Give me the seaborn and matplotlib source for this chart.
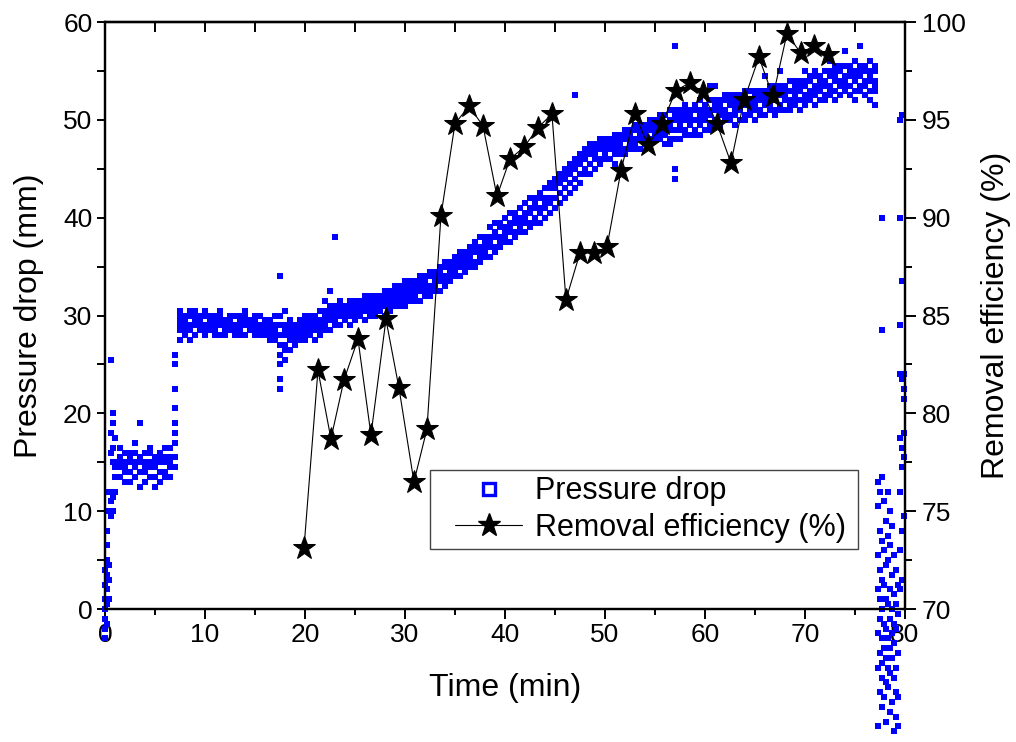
import numpy as np
import pandas as pd
import matplotlib
matplotlib.use("Agg")
import matplotlib.pyplot as plt
from matplotlib.lines import Line2D
from matplotlib.patches import Rectangle
from matplotlib.ticker import MultipleLocator
import seaborn as sns

# ---------------- data ----------------
# Removal efficiency (%) vs time (min)
eff_time = [19.9, 21.3, 22.6, 23.9, 25.3, 26.6, 28.1, 29.4, 30.9, 32.2,
            33.6, 35.0, 36.4, 37.8, 39.2, 40.5, 41.9, 43.3, 44.7, 46.1,
            47.5, 48.9, 50.2, 51.6, 53.0, 54.3, 55.7, 57.1, 58.5, 59.8,
            61.2, 62.6, 63.9, 65.4, 66.8, 68.2, 69.6, 70.9, 72.3]
eff_value = [73.1, 82.2, 78.7, 81.7, 83.8, 78.9, 84.8, 81.3, 76.5, 79.2,
             90.1, 94.8, 95.7, 94.7, 91.1, 93.0, 93.6, 94.6, 95.3, 85.8,
             88.2, 88.2, 88.5, 92.4, 95.3, 93.7, 94.8, 96.5, 96.9, 96.4,
             94.8, 92.8, 96.0, 98.2, 96.2, 99.4, 98.4, 98.8, 98.3]

# Pressure drop (mm) readings, grouped by sample time (min)
pd_startup = [
    (0.0, [-3, -2, -1, 0, 1, 2.5, 4]),
    (0.2, [-1.5, 0.5, 2, 3.5, 5, 6.5, 8]),
    (0.4, [1, 3, 4.5, 10, 12]),
    (0.6, [9.5, 11, 12, 16, 18, 25.5]),
    (0.8, [10, 11.5, 12, 15, 16.5, 19, 20]),
    (1.0, [12, 13.5, 14.5, 15, 17.5]),
]
pd_plateau15 = [
    (1.5, [13.5, 14.5, 15, 15.5, 16.5]), (2.0, [13, 14, 14.5, 15, 16]),
    (2.5, [13, 14, 15, 15.5, 16]), (3.0, [13.5, 14.5, 15, 16, 17]),
    (3.5, [12.5, 14, 15, 15.5, 19]), (4.0, [13, 14, 14.5, 15, 16]),
    (4.5, [13.5, 14.5, 15, 16, 16.5]), (5.0, [12.5, 13.5, 14.5, 15, 15.5]),
    (5.5, [13, 14, 15, 15.5, 16]), (6.0, [13.5, 14, 15, 15.5, 16.5]),
    (6.5, [13.5, 14.5, 15, 15.5, 16.5]),
    (7.0, [14.5, 15.5, 17, 18, 19, 20.5, 22.5, 25, 26]),
]
pd_plateau29 = [
    (7.5, [27.5, 28.5, 29, 29.5, 30, 30.5]), (8.0, [28, 28.5, 29, 29.5, 30]),
    (8.5, [27.5, 28.5, 29, 30, 30.5]), (9.0, [28, 29, 29.5, 30, 30.5]),
    (9.5, [28.5, 29, 29.5, 30]), (10.0, [28, 28.5, 29, 30, 30.5]),
    (10.5, [28.5, 29, 29.5, 30]), (11.0, [28, 28.5, 29, 29.5, 30]),
    (11.5, [28, 29, 29.5, 30, 30.5]), (12.0, [28, 28.5, 29, 29.5]),
    (12.5, [28.5, 29, 29.5, 30]), (13.0, [28, 28.5, 29, 30]),
    (13.5, [28, 28.5, 29, 29.5, 30]), (14.0, [28, 29, 29.5, 30, 30.5]),
    (14.5, [28.5, 29, 29.5]), (15.0, [28, 28.5, 29, 29.5, 30]),
    (15.5, [28, 28.5, 29, 30]), (16.0, [28, 28.5, 29, 29.5]),
    (16.5, [27.5, 28, 28.5, 29, 29.5]), (17.0, [27.5, 28, 28.5, 29, 30]),
    (17.5, [22.5, 23.5, 25, 26, 27, 28, 29, 30, 34]),
    (18.0, [25.5, 26.5, 27, 28, 28.5, 29, 30.5]),
    (18.5, [26.5, 27.5, 28, 28.5, 29, 29.5]), (19.0, [27, 27.5, 28, 28.5, 29]),
    (19.5, [27.5, 28, 28.5, 29, 29.5]), (20.0, [27.5, 28, 28.5, 29, 29.5, 30]),
    (20.5, [28, 28.5, 29, 29.5, 30]), (21.0, [27.5, 28.5, 29, 29.5, 30]),
    (21.5, [28, 28.5, 29, 29.5, 30.5]),
]
pd_rise = [
    (22.0, [28.5, 29, 29.5, 30, 30.5, 31.5]), (22.5, [28.5, 29.5, 30, 30.5, 31, 32.5]),
    (23.0, [29, 29.5, 30, 30.5, 31, 38]), (23.5, [29, 30, 30.5, 31, 31.5]),
    (24.0, [29.5, 30, 30.5, 31]), (24.5, [29, 30, 30.5, 31, 31.5]),
    (25.0, [29.5, 30, 30.5, 31, 31.5]), (25.5, [30, 30.5, 31, 31.5]),
    (26.0, [29.5, 30.5, 31, 31.5, 32]), (26.5, [30, 30.5, 31, 31.5, 32]),
    (27.0, [30, 30.5, 31, 31.5, 32]), (27.5, [30.5, 31, 31.5, 32]),
    (28.0, [30, 31, 31.5, 32, 32.5]), (28.5, [30.5, 31, 31.5, 32, 32.5]),
    (29.0, [31, 31.5, 32, 32.5, 33]), (29.5, [31, 31.5, 32, 32.5, 33]),
    (30.0, [31, 31.5, 32, 32.5, 33, 33.5]), (30.5, [31.5, 32, 32.5, 33, 33.5]),
    (31.0, [31.5, 32, 32.5, 33, 33.5]), (31.5, [31.5, 32.5, 33, 33.5, 34]),
    (32.0, [32, 32.5, 33, 33.5, 34]), (32.5, [32, 32.5, 33, 34, 34.5]),
    (33.0, [32.5, 33, 33.5, 34, 34.5]), (33.5, [32.5, 33.5, 34, 34.5, 35]),
    (34.0, [33, 33.5, 34, 35, 35.5]), (34.5, [33.5, 34, 34.5, 35, 35.5]),
    (35.0, [34, 34.5, 35, 35.5, 36]), (35.5, [34, 35, 35.5, 36, 36.5]),
    (36.0, [34.5, 35, 35.5, 36, 36.5]), (36.5, [35, 35.5, 36, 36.5, 37]),
    (37.0, [35, 35.5, 36.5, 37, 37.5]), (37.5, [35.5, 36, 36.5, 37, 38]),
    (38.0, [36, 36.5, 37, 37.5, 38]), (38.5, [36, 37, 37.5, 38, 39]),
    (39.0, [36.5, 37, 38, 38.5, 39.5]), (39.5, [37, 37.5, 38, 39, 39.5]),
    (40.0, [37.5, 38, 38.5, 39, 40]), (40.5, [37.5, 38.5, 39, 39.5, 40.5]),
    (41.0, [38, 38.5, 39.5, 40, 40.5]), (41.5, [38.5, 39, 39.5, 40, 41]),
    (42.0, [38.5, 39.5, 40, 40.5, 41.5]), (42.5, [39, 39.5, 40.5, 41, 42]),
    (43.0, [39.5, 40, 41, 41.5, 42]), (43.5, [39.5, 40.5, 41, 42, 42.5]),
    (44.0, [40, 41, 41.5, 42, 43]), (44.5, [40.5, 41.5, 42, 43, 43.5]),
    (45.0, [41, 42, 43, 43.5, 44]), (45.5, [41.5, 42.5, 43.5, 44, 44.5]),
    (46.0, [42, 43, 44, 44.5, 45]), (46.5, [42.5, 43.5, 44.5, 45, 45.5]),
    (47.0, [43, 44, 45, 45.5, 46, 52.5]), (47.5, [43.5, 44.5, 45.5, 46, 46.5]),
    (48.0, [44.5, 45, 46, 46.5, 47]), (48.5, [44.5, 45.5, 46.5, 47, 47.5]),
    (49.0, [45, 46, 46.5, 47, 47.5]), (49.5, [45.5, 46, 47, 47.5, 48]),
]
pd_late = [
    (50.0, [46, 46.5, 47, 47.5, 48]), (50.5, [46, 47, 47.5, 48]),
    (51.0, [45.5, 46.5, 47, 47.5, 48, 48.5]), (51.5, [46.5, 47, 47.5, 48, 48.5]),
    (52.0, [46.5, 47, 48, 48.5, 49]), (52.5, [47, 47.5, 48, 48.5, 49]),
    (53.0, [47, 47.5, 48, 49, 49.5]), (53.5, [47, 48, 48.5, 49, 49.5]),
    (54.0, [47.5, 48, 48.5, 49, 49.5]), (54.5, [47.5, 48, 49, 49.5, 50]),
    (55.0, [48, 48.5, 49, 49.5, 50]), (55.5, [48, 48.5, 49, 50, 50.5]),
    (56.0, [47.5, 48.5, 49, 49.5, 50.5]), (56.5, [47.5, 48, 49, 49.5, 50, 51]),
    (57.0, [44, 45, 48, 49, 50, 50.5, 51, 57.5]), (57.5, [48, 49, 49.5, 50, 50.5, 51]),
    (58.0, [48.5, 49, 50, 50.5, 51, 51.5]), (58.5, [48.5, 49.5, 50, 50.5, 51]),
    (59.0, [48.5, 49, 50, 51, 51.5]), (59.5, [48.5, 49.5, 50, 50.5, 51, 52]),
    (60.0, [49, 50, 50.5, 51, 51.5]), (60.5, [49, 49.5, 50.5, 51, 52, 53.5]),
    (61.0, [49.5, 50, 51, 51.5, 52, 53.5]), (61.5, [49.5, 50.5, 51, 51.5, 52]),
    (62.0, [50, 50.5, 51, 52, 52.5]), (62.5, [50, 50.5, 51.5, 52, 52.5]),
    (63.0, [49.5, 50.5, 51, 51.5, 52, 52.5]), (63.5, [50, 51, 51.5, 52, 52.5]),
    (64.0, [50, 50.5, 51.5, 52, 52.5, 53]), (64.5, [50.5, 51, 51.5, 52, 53]),
    (65.0, [50, 51, 51.5, 52, 52.5, 53]), (65.5, [50.5, 51, 52, 52.5, 53]),
    (66.0, [50.5, 51.5, 52, 52.5, 53, 54.5]), (66.5, [51, 51.5, 52, 53, 53.5]),
    (67.0, [50.5, 51, 52, 52.5, 53, 53.5]), (67.5, [51, 51.5, 52.5, 53, 53.5, 55]),
    (68.0, [51, 52, 52.5, 53, 53.5]), (68.5, [51, 51.5, 52, 53, 54]),
    (69.0, [51.5, 52, 52.5, 53, 53.5, 54]), (69.5, [51, 52, 53, 53.5, 54]),
    (70.0, [51.5, 52, 52.5, 53.5, 54, 55]), (70.5, [52, 52.5, 53, 54, 54.5]),
    (71.0, [51.5, 52.5, 53, 53.5, 54.5, 55]), (71.5, [52, 53, 53.5, 54, 54.5]),
    (72.0, [52, 52.5, 53.5, 54, 55]), (72.5, [52.5, 53, 53.5, 54.5, 55, 56]),
    (73.0, [52, 53, 54, 54.5, 55, 55.5]), (73.5, [52.5, 53.5, 54, 55, 55.5]),
    (74.0, [53, 53.5, 54, 54.5, 55.5, 57]), (74.5, [52.5, 53.5, 54.5, 55, 55.5]),
    (75.0, [52, 53, 54, 54.5, 55, 56]), (75.5, [53, 53.5, 54.5, 55, 55.5, 57.5]),
    (76.0, [52.5, 53.5, 54, 55, 55.5]), (76.5, [52, 53, 54, 54.5, 55, 56]),
    (77.0, [51.5, 53, 53.5, 54, 55, 55.5]),
]
pd_tail = [
    (77.3, [13, 10.5, 5.5, 2, -2.5, -6, -12]),
    (77.5, [12, 8, 4, 1, -1, -4.5, -8.5]),
    (77.7, [40, 28.5, 13.5, 7, 3, 0, -3, -5.5, -7, -10]),
    (77.9, [11, 6, 2.5, -1.5, -4, -9]),
    (78.1, [9, 4.5, 1, -2, -5, -7.5, -11.5]),
    (78.3, [12, 7.5, 5, 0.5, -3, -6, -8]),
    (78.5, [10, 6.5, 2, -1, -4, -6.5, -10.5]),
    (78.7, [8.5, 3.5, 0, -2.5, -5, -9.5]),
    (78.9, [5.5, 1.5, -1.5, -3.5, -7, -12.5]),
    (79.1, [4, 0.5, -2, -6, -8.5, -11]),
    (79.3, [2.5, -0.5, -4.5, -9, -12]),
    (79.5, [50, 40, 29, 24, 17.5, 12, 6, 2]),
    (79.7, [50.5, 33.5, 23.5, 16.5, 14.5, 8, 3]),
    (79.9, [24, 22.5, 21.5, 18, 15.5, 9.5]),
]

# ---------------- build tables ----------------
rows = []
for seg in (pd_startup, pd_plateau15, pd_plateau29, pd_rise, pd_late, pd_tail):
    for t, vals in seg:
        for v in vals:
            rows.append((t, v))
pdf = pd.DataFrame(rows, columns=["time", "pressure"])
edf = pd.DataFrame({"time": eff_time, "eff": eff_value})

# ---------------- style ----------------
sns.set_style("ticks")
plt.rcParams["font.family"] = ["Liberation Sans", "DejaVu Sans"]
plt.rcParams["axes.linewidth"] = 1.6
plt.rcParams["text.color"] = "black"
plt.rcParams["axes.labelcolor"] = "black"
plt.rcParams["xtick.color"] = "black"
plt.rcParams["ytick.color"] = "black"
plt.rcParams["axes.edgecolor"] = "black"

fig = plt.figure(figsize=(10.16, 7.42), dpi=100)
ax = fig.add_axes([0.1033, 0.1792, 0.7874, 0.7911])
ax2 = ax.twinx()

sns.scatterplot(data=pdf, x="time", y="pressure", ax=ax, marker="s", s=15,
                color="#0000ff", linewidth=0, clip_on=False, legend=False, zorder=3)
sns.lineplot(data=edf, x="time", y="eff", ax=ax2, color="black", linewidth=0.8,
             marker="*", markersize=17, markeredgecolor="black",
             markerfacecolor="black", legend=False, sort=False, zorder=4)

ax.set_xlim(0, 80)
ax.set_ylim(0, 60)
ax2.set_ylim(70, 100)

ax.xaxis.set_major_locator(MultipleLocator(10))
ax.xaxis.set_minor_locator(MultipleLocator(5))
ax.yaxis.set_major_locator(MultipleLocator(10))
ax.yaxis.set_minor_locator(MultipleLocator(5))
ax2.yaxis.set_major_locator(MultipleLocator(5))
ax2.yaxis.set_minor_locator(MultipleLocator(2.5))

TICK_FS = 19
ax.tick_params(axis="x", which="major", direction="out", length=7, width=1.4,
               labelsize=TICK_FS, top=False, pad=3, colors="black")
ax.tick_params(axis="x", which="minor", direction="out", length=4, width=1.4, top=False)
ax.tick_params(axis="y", which="both", direction="out", length=6, width=1.4,
               labelsize=TICK_FS, right=False, pad=3, colors="black")
ax2.tick_params(axis="y", which="major", direction="out", length=8, width=1.4,
                labelsize=TICK_FS, pad=4, colors="black")
ax2.tick_params(axis="y", which="minor", direction="out", length=5, width=1.4)

sec = ax.secondary_xaxis("top")
sec.xaxis.set_major_locator(MultipleLocator(5))
sec.tick_params(axis="x", direction="in", length=7, width=1.4, labeltop=False,
                colors="black")
sec.spines["top"].set_linewidth(1.6)

ax.set_xlabel("Time (min)", fontsize=23, labelpad=19, color="black")
ax.set_ylabel("Pressure drop (mm)", fontsize=23, labelpad=14, color="black")
ax2.set_ylabel("Removal efficiency (%)", fontsize=23, labelpad=11, color="black")

for a in (ax, ax2):
    for s in a.spines.values():
        s.set_linewidth(1.6)
        s.set_color("black")

# legend frame (axes fraction) and entries
frame = Rectangle((0.406, 0.1022), 0.535, 0.1346, transform=ax2.transAxes,
                  facecolor="white", edgecolor="#444444", linewidth=1.0, zorder=9)
ax2.add_patch(frame)

handles = [
    Line2D([], [], linestyle="none", marker="s", markersize=8,
           markerfacecolor="white", markeredgecolor="#0000ff", markeredgewidth=2.4),
    Line2D([], [], color="black", linewidth=0.8, marker="*", markersize=17,
           markerfacecolor="black", markeredgecolor="black"),
]
leg = ax2.legend(handles, ["Pressure drop", "Removal efficiency (%)"],
                 loc="center left", bbox_to_anchor=(0.4375, 0.1695), fontsize=22,
                 frameon=False, handlelength=2.2, borderpad=0.0, labelspacing=0.2,
                 handletextpad=0.42, borderaxespad=0, labelcolor="black")
leg.set_zorder(10)

fig.savefig("out.png", dpi=100)
